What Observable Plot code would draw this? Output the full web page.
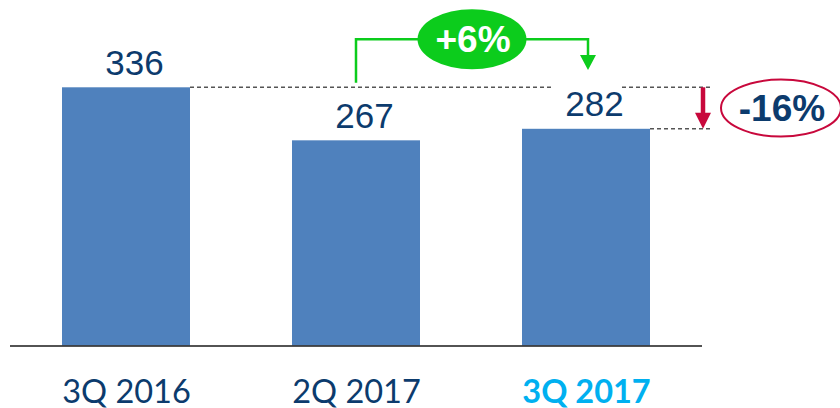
<!DOCTYPE html>
<html><head><meta charset="utf-8">
<script src="https://cdn.jsdelivr.net/npm/d3@7"></script>
<script src="https://cdn.jsdelivr.net/npm/@observablehq/plot@0.6"></script>
<style>body{margin:0;background:#fff}</style>
</head><body><div id="chart"></div>
<script>
const categories = ["3Q 2016", "2Q 2017", "3Q 2017"];
const values = [336, 267, 282];
const highlight = "3Q 2017";
const changeQoQ = "+6%";
const changeYoY = "-16%";

const data = categories.map((c, i) => ({category: c, value: values[i]}));
const navy = "#0c3b6d", barColor = "#4f81bd", green = "#0ccc1c", red = "#c8083c", cyan = "#00b0f0";
const arial = "'Liberation Sans', Arial, sans-serif";

const plot = Plot.plot({
  width: 840, height: 408,
  marginLeft: 10, marginRight: 138, marginTop: 0, marginBottom: 62.5,
  x: {domain: categories, paddingInner: 0.445, paddingOuter: 0.224, axis: null},
  y: {domain: [0, 449.6], axis: null},
  marks: [
    Plot.barY(data, {x: "category", y: "value", fill: barColor}),
    Plot.ruleY([0], {stroke: "#1a1a1a", strokeWidth: 1.6}),
    Plot.text(data, {x: "category", y: "value", text: d => String(d.value), dy: -13, dx: 8,
      lineAnchor: "bottom", fontSize: 35, fill: navy, fontFamily: arial}),
    Plot.text(categories.filter(c => c !== highlight), {x: d => d, frameAnchor: "bottom", dy: 56.5,
      lineAnchor: "bottom", fontSize: 32.5, fill: navy, fontFamily: "Lato"}),
    Plot.text([highlight], {x: d => d, frameAnchor: "bottom", dy: 56.5,
      lineAnchor: "bottom", fontSize: 32.5, fill: cyan, fontWeight: "bold", fontFamily: "Lato"})
  ]
});
document.getElementById("chart").appendChild(plot);

// annotations positioned through Plot's own scales
(function () {
  const xs = plot.scale("x"), ys = plot.scale("y");
  const bw = xs.bandwidth;
  const cx = c => xs.apply(c) + bw / 2;
  const y = v => ys.apply(v);
  const frameRight = xs.range[1];
  const svg = d3.select(plot);
  const firstText = plot.querySelector('g[aria-label="text"]');
  const under = d3.select(plot.insertBefore(document.createElementNS("http://www.w3.org/2000/svg", "g"), firstText));

  function dline(g, x1, x2, yy) {
    g.append("line").attr("x1", x1).attr("x2", x2).attr("y1", yy).attr("y2", yy)
      .attr("stroke", "#555").attr("stroke-width", 1.5).attr("stroke-dasharray", "4,3");
  }
  const c3 = cx(categories[2]), c2 = cx(categories[1]);
  dline(under, xs.apply(categories[0]) + bw, c3 - 35, y(values[0]));
  dline(under, c3 + 36, frameRight + 8, y(values[0]));
  dline(under, xs.apply(categories[2]) + bw, frameRight + 8, y(values[2]));

  const over = svg.append("g");
  // red down arrow
  const ax = frameRight + 1;
  const yTop = y(values[0]), yBot = y(values[2]);
  over.append("line").attr("x1", ax).attr("x2", ax).attr("y1", yTop).attr("y2", yBot - 12)
    .attr("stroke", red).attr("stroke-width", 4.5);
  over.append("path").attr("d", `M${ax - 8},${yBot - 16}L${ax + 8},${yBot - 16}L${ax},${yBot}Z`).attr("fill", red);
  // red ellipse + label
  const ex = 781, ey = (yTop + yBot) / 2;
  over.append("ellipse").attr("cx", ex).attr("cy", ey).attr("rx", 60).attr("ry", 28.5)
    .attr("fill", "white").attr("stroke", red).attr("stroke-width", 2);
  over.append("text").attr("x", ex + 1).attr("y", ey + 13).attr("text-anchor", "middle")
    .attr("font-family", arial).attr("font-weight", "bold").attr("font-size", 37).attr("fill", navy).text(changeYoY);

  // green bracket
  const gy = 39.3;
  const gx1 = c2, gx2 = c3 + 2;
  over.append("path").attr("d", `M${gx1},${y(values[1]) - 57.5}V${gy}H${gx2}V${56}`)
    .attr("fill", "none").attr("stroke", green).attr("stroke-width", 2.5);
  over.append("path").attr("d", `M${gx2 - 8},${55}L${gx2 + 8},${55}L${gx2},${70}Z`).attr("fill", green);
  const gcx = (gx1 + gx2) / 2;
  over.append("ellipse").attr("cx", gcx).attr("cy", gy).attr("rx", 54.5).attr("ry", 30).attr("fill", green);
  over.append("text").attr("x", gcx + 1).attr("y", gy + 12.5).attr("text-anchor", "middle")
    .attr("font-family", arial).attr("font-weight", "bold").attr("font-size", 37).attr("fill", "white").text(changeQoQ);
})();
</script>
</body></html>
